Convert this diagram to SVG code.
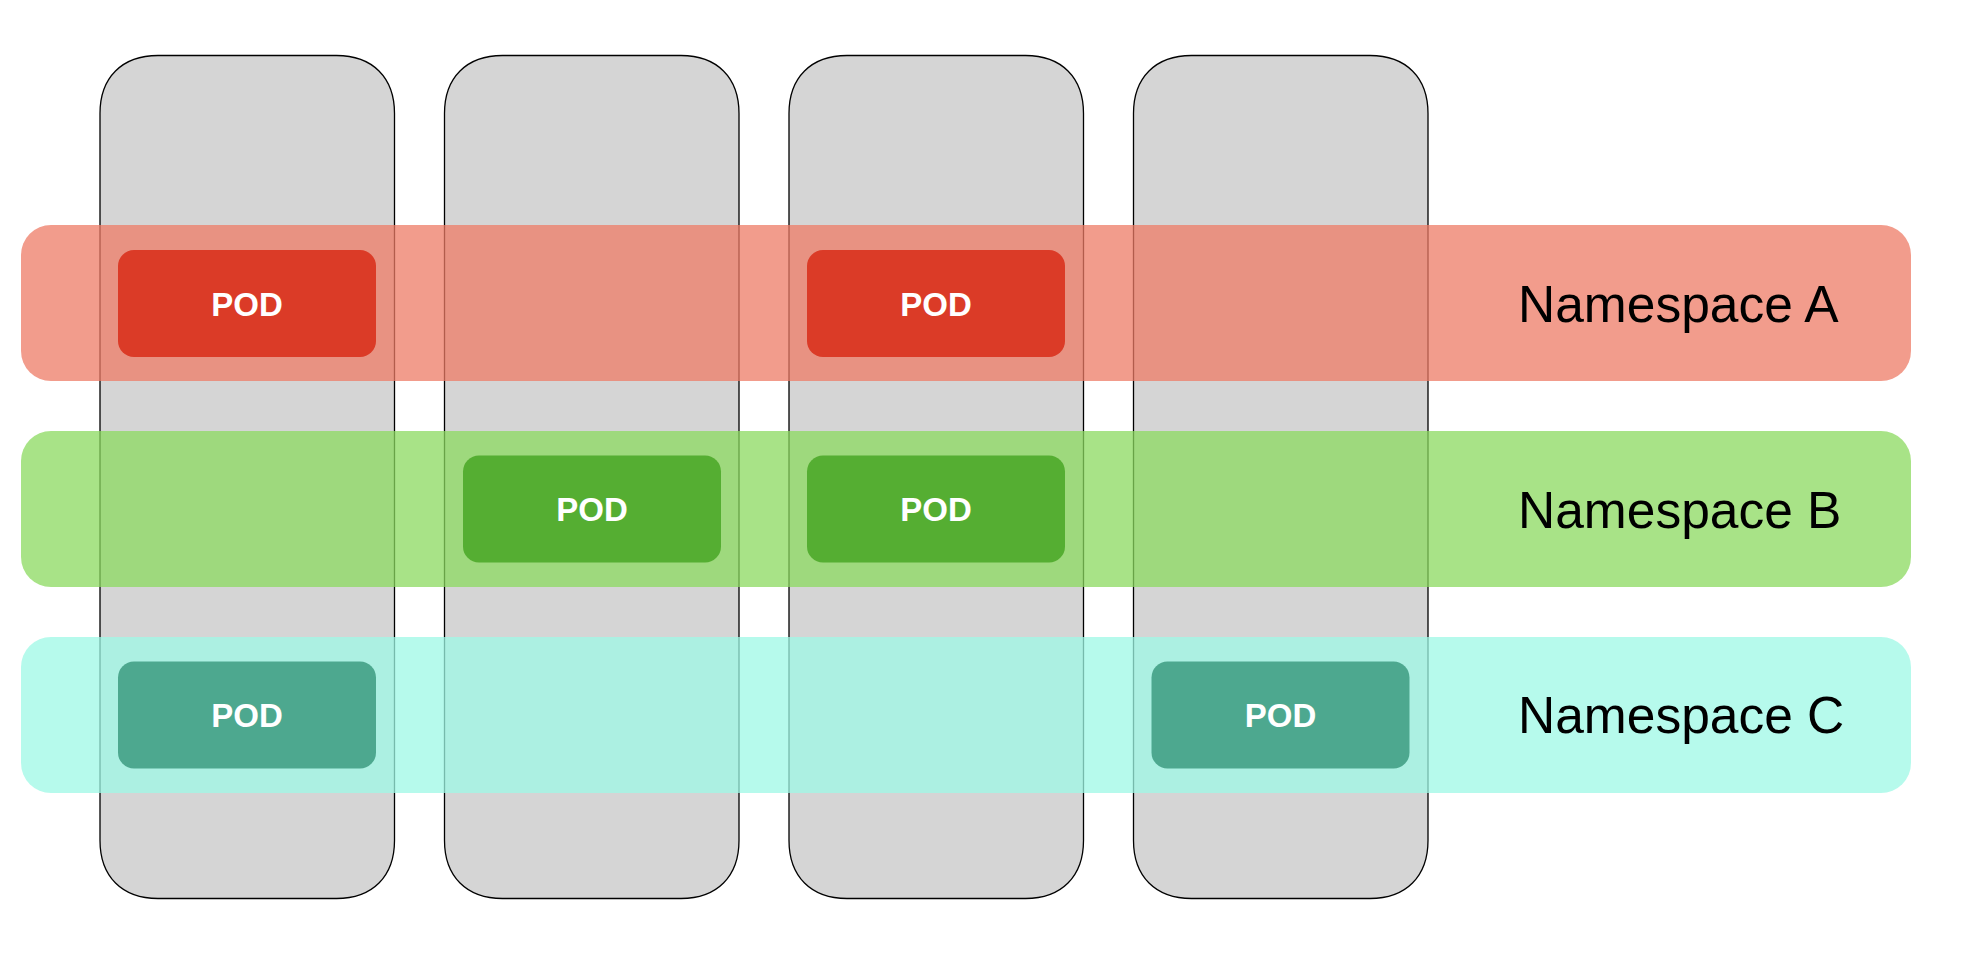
<svg xmlns="http://www.w3.org/2000/svg" width="1970" height="962" viewBox="0 0 1970 962">
<style>
.node{fill:#d5d5d5;stroke:#000;stroke-width:1.3}
.band{stroke:none}
.nsA{fill:#ee7b66;fill-opacity:0.75}
.nsB{fill:#8bda5f;fill-opacity:0.75}
.nsC{fill:#9ef8e6;fill-opacity:0.75}
.pod{stroke:none}
.podA{fill:#db3b27}
.podB{fill:#55ae32}
.podC{fill:#4da88f}
.podt{font-family:"Liberation Sans",Arial,sans-serif;font-weight:bold;font-size:33px;fill:#fff;text-anchor:middle}
.nst{font-family:"Liberation Sans",Arial,sans-serif;font-size:51.5px;fill:#000}
</style>
<rect width="1970" height="962" fill="#fff"/>
<g id="nodes">
<g id="node1"><path class="node" d="M100,113.5 C100,77.5 122,55.5 158,55.5 L336.5,55.5 C372.5,55.5 394.5,77.5 394.5,113.5 L394.5,840.5 C394.5,876.5 372.5,898.5 336.5,898.5 L158,898.5 C122,898.5 100,876.5 100,840.5 Z"/></g>
<g id="node2"><path class="node" d="M444.5,113.5 C444.5,77.5 466.5,55.5 502.5,55.5 L681,55.5 C717,55.5 739,77.5 739,113.5 L739,840.5 C739,876.5 717,898.5 681,898.5 L502.5,898.5 C466.5,898.5 444.5,876.5 444.5,840.5 Z"/></g>
<g id="node3"><path class="node" d="M789,113.5 C789,77.5 811,55.5 847,55.5 L1025.5,55.5 C1061.5,55.5 1083.5,77.5 1083.5,113.5 L1083.5,840.5 C1083.5,876.5 1061.5,898.5 1025.5,898.5 L847,898.5 C811,898.5 789,876.5 789,840.5 Z"/></g>
<g id="node4"><path class="node" d="M1133.5,113.5 C1133.5,77.5 1155.5,55.5 1191.5,55.5 L1370,55.5 C1406,55.5 1428,77.5 1428,113.5 L1428,840.5 C1428,876.5 1406,898.5 1370,898.5 L1191.5,898.5 C1155.5,898.5 1133.5,876.5 1133.5,840.5 Z"/></g>
</g>
<g id="namespaces">
<g id="namespaceA"><rect class="band nsA" x="21" y="225" width="1890" height="156" rx="30" ry="30"/>
<text class="nst" x="1518" y="322">Namespace A</text></g>
<g id="namespaceB"><rect class="band nsB" x="21" y="431" width="1890" height="156" rx="30" ry="30"/>
<text class="nst" x="1518" y="528">Namespace B</text></g>
<g id="namespaceC"><rect class="band nsC" x="21" y="637" width="1890" height="156" rx="30" ry="30"/>
<text class="nst" x="1518" y="733">Namespace C</text></g>
</g>
<g id="pods">
<g id="podA1"><rect class="pod podA" x="118" y="250" width="258" height="107" rx="16" ry="16"/><text class="podt" x="247" y="315.5">POD</text></g>
<g id="podA2"><rect class="pod podA" x="807" y="250" width="258" height="107" rx="16" ry="16"/><text class="podt" x="936" y="315.5">POD</text></g>
<g id="podB1"><rect class="pod podB" x="463" y="455.5" width="258" height="107" rx="16" ry="16"/><text class="podt" x="592" y="521">POD</text></g>
<g id="podB2"><rect class="pod podB" x="807" y="455.5" width="258" height="107" rx="16" ry="16"/><text class="podt" x="936" y="521">POD</text></g>
<g id="podC1"><rect class="pod podC" x="118" y="661.5" width="258" height="107" rx="16" ry="16"/><text class="podt" x="247" y="727">POD</text></g>
<g id="podC2"><rect class="pod podC" x="1151.5" y="661.5" width="258" height="107" rx="16" ry="16"/><text class="podt" x="1280.5" y="727">POD</text></g>
</g>
<g id="connectors"/>
</svg>
